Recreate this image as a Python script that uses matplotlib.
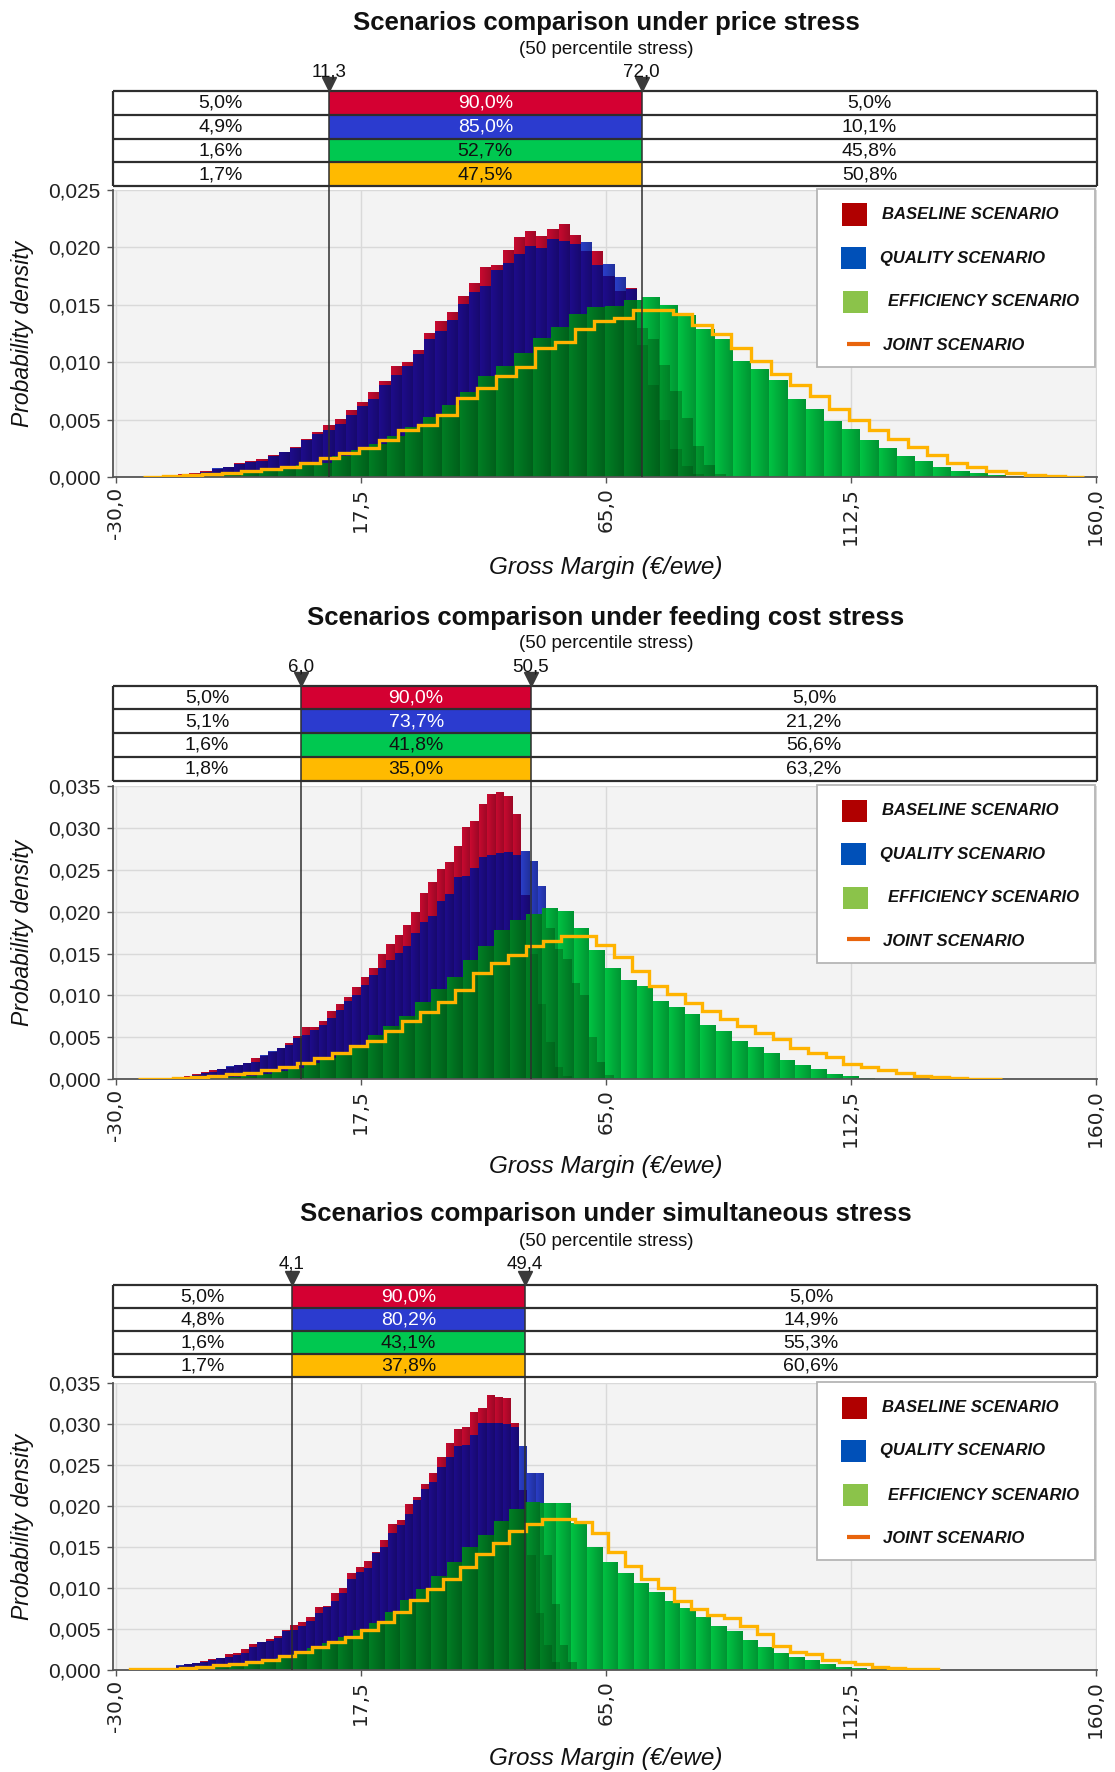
import numpy as np
import matplotlib
matplotlib.use("Agg")
import matplotlib.pyplot as plt
from matplotlib.patches import Rectangle
from matplotlib.lines import Line2D
from matplotlib.ticker import FixedLocator, FuncFormatter

plt.rcParams['font.family'] = ['Liberation Sans', 'DejaVu Sans']

# ---------------------------------------------------------------- data
x_ticks = [-30.0, 17.5, 65.0, 112.5, 160.0]
x_tick_labels = ["-30,0", "17,5", "65,0", "112,5", "160,0"]
scenario_names = ["BASELINE SCENARIO", "QUALITY SCENARIO", "EFFICIENCY SCENARIO", "JOINT SCENARIO"]
titles = ["Scenarios comparison under price stress",
          "Scenarios comparison under feeding cost stress",
          "Scenarios comparison under simultaneous stress"]
subtitle = "(50 percentile stress)"
x_label = "Gross Margin (\u20ac/ewe)"
y_label = "Probability density"

# ---- panel 1: price stress (densities in units of 0.001)
p1_bounds = [11.3, 72.0]
p1_left = ["5,0%", "4,9%", "1,6%", "1,7%"]
p1_mid = ["90,0%", "85,0%", "52,7%", "47,5%"]
p1_right = ["5,0%", "10,1%", "45,8%", "50,8%"]
p1_ymax = 0.025
p1_rb_start, p1_rb_width = -20.09, 2.17
p1_red = [0.12, 0.29, 0.35, 0.52, 0.76, 0.93, 1.25, 1.46, 1.57, 1.92, 2.22, 2.62, 3.32, 3.91, 4.52,
          5.10, 5.83, 6.59, 7.41, 8.34, 9.68, 10.06, 11.11, 12.59, 13.59, 14.40, 15.74, 16.94,
          18.34, 18.51, 19.74, 20.90, 21.43, 20.99, 21.63, 22.01, 21.11, 19.70, 19.65, 17.50,
          16.20, 16.50, 11.50, 8.00, 5.00, 2.50, 1.00, 0.30]
p1_blue = [0.18, 0.23, 0.29, 0.50, 0.85, 0.93, 1.17, 1.37, 1.46, 1.81, 2.16, 2.54, 3.21, 3.79, 4.14,
           4.66, 5.39, 6.18, 6.85, 7.99, 8.89, 9.68, 10.70, 12.07, 12.71, 13.67, 15.04, 16.15,
           16.62, 18.05, 18.63, 19.45, 20.12, 19.94, 20.70, 20.52, 20.30, 20.50, 18.50, 18.60,
           17.40, 16.40, 13.00, 12.00, 9.80, 7.50, 5.20, 2.70, 1.10, 0.30]
p1_green_start, p1_green_width = -16.24, 3.53
p1_green = [0.09, 0.15, 0.23, 0.35, 0.52, 0.70, 1.08, 1.22, 1.87, 2.39, 2.92, 3.62, 4.34, 5.25,
            6.33, 7.41, 8.80, 9.68, 10.85, 12.16, 13.09, 14.20, 14.78, 14.87, 15.45, 15.66, 14.99,
            14.11, 12.89, 12.07, 10.12, 9.39, 8.51, 6.85, 5.98, 4.93, 4.20, 3.27, 2.54, 1.81, 1.43,
            0.93, 0.58, 0.35, 0.17, 0.09]
p1_joint_start, p1_joint_width = -24.64, 3.80
p1_joint = [0.06, 0.10, 0.17, 0.26, 0.41, 0.52, 0.76, 0.93, 1.22, 1.66, 2.10, 2.54, 3.27, 4.14,
            4.58, 5.45, 6.91, 7.73, 8.80, 9.59, 11.28, 11.81, 12.94, 13.56, 13.90, 14.55, 14.55,
            14.20, 13.24, 12.45, 11.22, 10.12, 9.01, 8.02, 7.06, 5.95, 4.96, 4.14, 3.35, 2.62,
            1.95, 1.22, 0.93, 0.58, 0.35, 0.17, 0.12, 0.06]

# ---- panel 2: feeding cost stress
p2_bounds = [6.0, 50.5]
p2_left = ["5,0%", "5,1%", "1,6%", "1,8%"]
p2_mid = ["90,0%", "73,7%", "41,8%", "35,0%"]
p2_right = ["5,0%", "21,2%", "56,6%", "63,2%"]
p2_ymax = 0.035
p2_rb_start, p2_rb_width = -18.44, 1.635
p2_red = [0.20, 0.40, 0.64, 0.88, 1.12, 1.27, 1.51, 1.67, 1.99, 2.55, 2.83, 3.31, 3.78, 4.30, 5.18,
          6.22, 6.29, 7.01, 8.17, 8.96, 9.80, 11.00, 12.19, 13.27, 14.94, 16.14, 17.17, 18.45,
          19.92, 22.23, 23.55, 25.14, 25.94, 27.81, 30.08, 30.88, 32.91, 34.10, 34.26, 33.86,
          31.71, 22.00, 15.00, 9.00, 4.50, 1.50, 0.40]
p2_blue = [0.12, 0.32, 0.52, 0.72, 0.92, 1.20, 1.59, 1.71, 1.91, 2.11, 2.91, 3.43, 3.71, 4.10, 4.90,
           5.30, 5.90, 6.49, 7.29, 8.29, 9.40, 10.08, 11.27, 12.47, 13.27, 14.26, 15.06, 15.86,
           17.45, 18.76, 19.44, 21.24, 22.15, 24.14, 24.30, 25.22, 26.53, 26.81, 27.01, 27.09,
           26.81, 27.29, 26.00, 23.10, 18.00, 15.50, 14.30, 11.50, 10.10, 5.10, 2.10, 0.50]
p2_green_start, p2_green_width = -18.05, 3.073
p2_green = [0.08, 0.12, 0.20, 0.32, 0.44, 0.68, 1.00, 1.39, 1.91, 2.51, 3.31, 4.02, 5.30, 6.41,
            7.61, 9.20, 10.80, 12.19, 14.26, 15.86, 17.77, 19.04, 19.76, 20.44, 20.04, 18.05,
            15.46, 13.27, 11.79, 11.08, 9.40, 8.61, 7.77, 6.45, 5.78, 4.62, 3.90, 3.19, 2.31,
            1.67, 1.27, 0.68, 0.40, 0.16, 0.08, 0.04]
p2_joint_start, p2_joint_width = -25.68, 3.418
p2_joint = [0.08, 0.08, 0.16, 0.24, 0.44, 0.60, 0.80, 1.12, 1.51, 1.91, 2.51, 3.11, 3.98, 4.62,
            5.82, 7.01, 8.09, 9.20, 10.68, 12.67, 13.86, 14.78, 15.94, 16.45, 17.05, 17.05, 16.06,
            14.58, 12.87, 11.16, 10.20, 9.16, 8.21, 7.17, 6.37, 5.58, 4.78, 3.71, 3.11, 2.71,
            1.83, 1.51, 1.12, 0.72, 0.44, 0.32, 0.16, 0.08, 0.08]

# ---- panel 3: simultaneous stress
p3_bounds = [4.1, 49.4]
p3_left = ["5,0%", "4,8%", "1,6%", "1,7%"]
p3_mid = ["90,0%", "80,2%", "43,1%", "37,8%"]
p3_right = ["5,0%", "14,9%", "55,3%", "60,6%"]
p3_ymax = 0.035
p3_rb_start, p3_rb_width = -19.99, 1.587
p3_red = [0.20, 0.53, 0.73, 0.89, 1.10, 1.30, 1.50, 1.91, 2.03, 2.52, 3.13, 3.37, 3.78, 4.19, 4.88,
          5.49, 5.81, 6.50, 7.72, 7.85, 9.35, 9.96, 11.87, 12.60, 13.29, 14.43, 15.85, 17.76,
          18.29, 20.20, 21.14, 22.64, 23.98, 26.02, 27.64, 29.39, 29.67, 31.50, 31.99, 33.54,
          33.29, 33.13, 30.08, 22.00, 14.00, 7.00, 3.00, 1.00]
p3_blue = [0.12, 0.65, 0.77, 0.89, 1.02, 1.18, 1.42, 1.63, 1.83, 2.03, 2.85, 3.37, 3.54, 3.94, 4.76,
           4.88, 5.41, 5.98, 6.91, 7.72, 8.41, 9.35, 11.06, 11.99, 12.40, 14.23, 15.04, 16.75,
           17.68, 18.98, 20.73, 22.07, 22.97, 24.80, 26.02, 27.36, 27.44, 28.66, 30.08, 30.08,
           30.08, 29.96, 29.67, 27.30, 24.00, 24.00, 14.00, 8.00, 3.00, 1.00]
p3_green_start, p3_green_width = -20.12, 3.018
p3_green = [0.08, 0.12, 0.20, 0.33, 0.49, 0.77, 1.02, 1.42, 1.95, 2.64, 3.25, 3.98, 4.88, 5.69,
            7.03, 8.54, 9.88, 11.50, 13.13, 14.96, 16.46, 18.17, 19.63, 20.45, 20.33, 20.33,
            17.89, 14.96, 13.21, 11.79, 10.65, 9.47, 8.41, 7.60, 6.50, 5.41, 4.80, 3.66, 2.76,
            2.11, 1.63, 1.22, 0.77, 0.41, 0.20, 0.12, 0.08]
p3_joint_start, p3_joint_width = -27.16, 3.195
p3_joint = [0.08, 0.08, 0.16, 0.24, 0.37, 0.61, 0.77, 1.02, 1.22, 1.75, 2.24, 2.85, 3.46, 3.98,
            4.88, 5.81, 7.11, 8.54, 9.88, 11.10, 12.60, 14.15, 15.53, 16.99, 17.76, 18.41, 18.41,
            18.00, 16.67, 14.35, 12.72, 11.06, 9.96, 8.41, 7.44, 6.71, 6.30, 5.41, 4.35, 2.97,
            2.24, 1.91, 1.22, 1.02, 0.69, 0.41, 0.20, 0.08, 0.08]

PANELS = [
    dict(title=titles[0], bounds=p1_bounds, left=p1_left, mid=p1_mid, right=p1_right, ymax=p1_ymax,
         red=(p1_rb_start, p1_rb_width, p1_red), blue=(p1_rb_start, p1_rb_width, p1_blue),
         green=(p1_green_start, p1_green_width, p1_green), joint=(p1_joint_start, p1_joint_width, p1_joint)),
    dict(title=titles[1], bounds=p2_bounds, left=p2_left, mid=p2_mid, right=p2_right, ymax=p2_ymax,
         red=(p2_rb_start, p2_rb_width, p2_red), blue=(p2_rb_start, p2_rb_width, p2_blue),
         green=(p2_green_start, p2_green_width, p2_green), joint=(p2_joint_start, p2_joint_width, p2_joint)),
    dict(title=titles[2], bounds=p3_bounds, left=p3_left, mid=p3_mid, right=p3_right, ymax=p3_ymax,
         red=(p3_rb_start, p3_rb_width, p3_red), blue=(p3_rb_start, p3_rb_width, p3_blue),
         green=(p3_green_start, p3_green_width, p3_green), joint=(p3_joint_start, p3_joint_width, p3_joint)),
]

# ---------------------------------------------------------------- layout / style
W, H = 1115, 1772
AX_L, AX_R = 113.0, 1097.0
XMIN, XMAX = -30.52, 160.25
XC = 606.0
GEOM = [
    dict(title_y=22.6, sub_y=50.0, mark_y=72.0, table=(91.0, 186.0), axes=(190.0, 477.3), xlabel_y=567.0),
    dict(title_y=618.0, sub_y=644.0, mark_y=667.0, table=(685.7, 780.6), axes=(786.0, 1079.3), xlabel_y=1167.0),
    dict(title_y=1214.0, sub_y=1242.0, mark_y=1264.0, table=(1284.5, 1377.0), axes=(1383.0, 1670.0), xlabel_y=1759.0),
]

RED = '#c80a30'
BLUE = '#2a3ec8'
INDIGO = '#1e0c8c'
GREEN = '#00c443'
GREEN_DARK_B = '#00962e'
GREEN_DARK_R = '#007f24'
ORANGE = '#ffb300'
TABLE_COLORS = ['#d40032', '#2b3bcf', '#00c850', '#ffba00']
TABLE_MID_TEXT = ['white', 'white', '#111111', '#111111']
LEG_COLORS = ['#b00000', '#0050b8', '#8bc34a', '#e8640c']
LINE_C = '#2e2e2e'

fig = plt.figure(figsize=(W / 100, H / 100), dpi=100)
fig.patch.set_facecolor('white')


def fxp(x):
    return x / W


def fyp(y):
    return 1.0 - y / H


def edges_of(start, width, vals):
    return start + width * np.arange(len(vals) + 1)


def fmt1(v):
    return f"{v:.1f}".replace('.', ',')


NPX = int(AX_R - AX_L)


def add_shading(ax, patch, start, width, ymax, strength, z):
    """Per-bar left-to-right darkening, clipped to the histogram outline."""
    xs = XMIN + (np.arange(NPX) + 0.5) / NPX * (XMAX - XMIN)
    frac = ((xs - start) / width) % 1.0
    img = np.zeros((2, NPX, 4))
    img[..., 3] = strength * frac[None, :]
    im = ax.imshow(img, extent=[XMIN, XMAX, 0, ymax], origin='lower', aspect='auto',
                   interpolation='nearest', zorder=z)
    im.set_clip_path(patch)


for P, g in zip(PANELS, GEOM):
    at, ab = g['axes']
    tt, tb = g['table']
    ymax = P['ymax']
    lo, hi = P['bounds']

    # ---------------- main axes
    ax = fig.add_axes([fxp(AX_L), fyp(ab), (AX_R - AX_L) / W, (ab - at) / H])
    ax.set_facecolor('#f3f3f3')
    ax.set_axisbelow(True)
    ax.grid(True, color='#d9d9d9', lw=1.0)
    for s in ['top', 'right']:
        ax.spines[s].set_visible(False)
    for s in ['left', 'bottom']:
        ax.spines[s].set_color('#555555')
        ax.spines[s].set_linewidth(1.3)

    rs, rw, rv = P['red']
    bs, bw, bv = P['blue']
    gs, gw, gv = P['green']
    js, jw, jv = P['joint']
    re_ = edges_of(rs, rw, rv)
    be_ = edges_of(bs, bw, bv)
    ge_ = edges_of(gs, gw, gv)
    je_ = edges_of(js, jw, jv)
    rvals = np.array(rv) * 1e-3
    bvals = np.array(bv) * 1e-3
    gvals = np.array(gv) * 1e-3
    jvals = np.array(jv) * 1e-3

    red_patch = ax.stairs(rvals, re_, fill=True, facecolor=RED, edgecolor='none', lw=0, zorder=2)
    add_shading(ax, red_patch, rs, rw, ymax, 0.22, 2.05)
    blue_patch = ax.stairs(bvals, be_, fill=True, facecolor=BLUE, edgecolor='none', lw=0, zorder=2.1)
    ind = ax.stairs(bvals, be_, fill=True, facecolor=INDIGO, edgecolor='none', lw=0, zorder=2.2)
    ind.set_clip_path(red_patch)
    add_shading(ax, blue_patch, bs, bw, ymax, 0.22, 2.25)
    green_patch = ax.stairs(gvals, ge_, fill=True, facecolor=GREEN, edgecolor='none', lw=0, zorder=2.3)
    dkb = ax.stairs(bvals, be_, fill=True, facecolor=GREEN_DARK_B, edgecolor='none', lw=0, zorder=2.4)
    dkb.set_clip_path(green_patch)
    dkr = ax.stairs(rvals, re_, fill=True, facecolor=GREEN_DARK_R, edgecolor='none', lw=0, zorder=2.41)
    dkr.set_clip_path(green_patch)
    add_shading(ax, green_patch, gs, gw, ymax, 0.25, 2.45)
    ax.stairs(jvals, je_, fill=False, color=ORANGE, lw=2.4, zorder=3)

    ax.set_xlim(XMIN, XMAX)
    ax.set_ylim(0, ymax)
    ax.xaxis.set_major_locator(FixedLocator(x_ticks))
    ax.set_xticklabels(x_tick_labels, rotation=90, fontsize=14.5, family='DejaVu Sans', color='#222222')
    yt = np.arange(0, ymax + 1e-9, 0.005)
    ax.yaxis.set_major_locator(FixedLocator(yt))
    ax.yaxis.set_major_formatter(FuncFormatter(lambda v, p: f"{v:.3f}".replace('.', ',')))
    ax.tick_params(axis='y', length=4, width=1, color='#555555', pad=5, labelsize=15, labelcolor='#222222')
    ax.tick_params(axis='x', length=4, width=1, color='#555555', pad=3)

    ext = ymax * (ab - tb) / (ab - at)
    ax.vlines([lo, hi], 0, ext, color=LINE_C, lw=1.1, zorder=5, clip_on=False)

    # ---------------- table
    tax = fig.add_axes([fxp(AX_L), fyp(tb), (AX_R - AX_L) / W, (tb - tt) / H])
    tax.set_xlim(XMIN, XMAX)
    tax.set_ylim(4, 0)
    tax.axis('off')
    rh = (tb - tt) / 4.0
    for r in range(4):
        tax.add_patch(Rectangle((XMIN, r), lo - XMIN, 1, fc='white', ec='none'))
        tax.add_patch(Rectangle((lo, r), hi - lo, 1, fc=TABLE_COLORS[r], ec='none'))
        tax.add_patch(Rectangle((hi, r), XMAX - hi, 1, fc='white', ec='none'))
        tax.text((XMIN + lo) / 2, r + 0.52, P['left'][r], ha='center', va='center', fontsize=14, color='#111111')
        tax.text((lo + hi) / 2, r + 0.52, P['mid'][r], ha='center', va='center', fontsize=14,
                 color=TABLE_MID_TEXT[r])
        tax.text((hi + XMAX) / 2, r + 0.52, P['right'][r], ha='center', va='center', fontsize=14, color='#111111')
    tax.hlines(np.arange(5), XMIN, XMAX, color=LINE_C, lw=1.6, clip_on=False)
    tax.vlines([XMIN, XMAX], 0, 4, color=LINE_C, lw=1.6, clip_on=False)
    tax.vlines([lo, hi], 0, 4, color=LINE_C, lw=1.1, clip_on=False)
    tax.plot([lo, hi], [-7.0 / rh] * 2, linestyle='none', marker='v', ms=10, color='#3a3a3a', clip_on=False)
    for q in (lo, hi):
        tax.text(q, -(tt - g['mark_y']) / rh, fmt1(q), ha='center', va='center', fontsize=13.5,
                 color='#111111', clip_on=False)

    # ---------------- titles & labels
    fig.text(fxp(XC), fyp(g['title_y']), P['title'], ha='center', va='center', fontsize=18.5,
             fontweight='bold', color='#111111')
    fig.text(fxp(XC), fyp(g['sub_y']), subtitle, ha='center', va='center', fontsize=13.5, color='#111111')
    fig.text(fxp(XC), fyp(g['xlabel_y']), x_label, ha='center', va='center', fontsize=17.5,
             style='italic', color='#111111')
    fig.text(fxp(23), fyp((at + ab) / 2), y_label, ha='center', va='center', rotation=90,
             fontsize=16.5, style='italic', color='#111111')

    # ---------------- legend
    box_l, box_r = 817.0, 1095.0
    box_t, box_b = at - 1.0, at + 177.0
    fig.add_artist(Rectangle((fxp(box_l), fyp(box_b)), (box_r - box_l) / W, (box_b - box_t) / H,
                             transform=fig.transFigure, fc='white', ec='#b5b5b5', lw=1.3, zorder=10))
    row_off = [24.5, 68.0, 112.0, 155.5]
    sq_x = [842.0, 841.0, 843.0]
    txt_x = [882.0, 880.0, 888.0, 883.0]
    for k in range(4):
        cy = at + row_off[k]
        if k < 3:
            fig.add_artist(Rectangle((fxp(sq_x[k]), fyp(cy + 11)), 25.0 / W, 22.0 / H,
                                     transform=fig.transFigure, fc=LEG_COLORS[k], ec='none', zorder=11))
        else:
            fig.add_artist(Line2D([fxp(847), fxp(870)], [fyp(cy - 2), fyp(cy - 2)], transform=fig.transFigure,
                                  color=LEG_COLORS[k], lw=3.0, solid_capstyle='butt', zorder=11))
        fig.text(fxp(txt_x[k]), fyp(cy), scenario_names[k], ha='left', va='center', fontsize=12,
                 fontweight='bold', style='italic', color='#111111', zorder=12)

fig.savefig('out.png', dpi=100, facecolor='white')
